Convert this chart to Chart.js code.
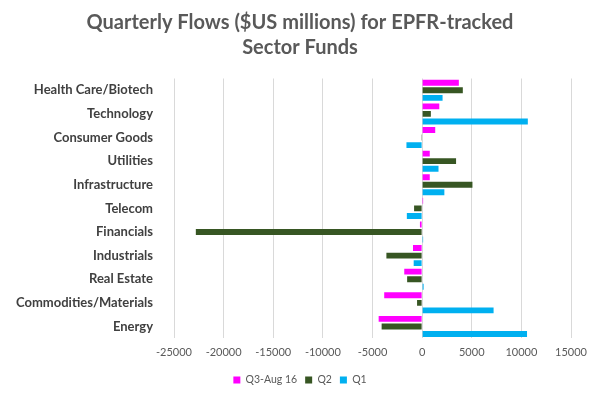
<!DOCTYPE html>
<html>
<head>
<meta charset="utf-8">
<script src="https://cdn.jsdelivr.net/npm/chart.js@4/dist/chart.umd.min.js"></script>
<style>
  html, body { margin: 0; padding: 0; background: #fff; }
  .wrap { width: 600px; height: 399px; position: relative; }
</style>
</head>
<body>
<div class="wrap"><canvas id="chart"></canvas></div>
<script>
// sectors, top to bottom
const categories = ['Health Care/Biotech', 'Technology', 'Consumer Goods', 'Utilities', 'Infrastructure', 'Telecom',
  'Financials', 'Industrials', 'Real Estate', 'Commodities/Materials', 'Energy']
const seriesNames = ['Q3-Aug 16', 'Q2', 'Q1']
const q3 = [3700, 1730, 1320, 770, 770, 100, -220, -920, -1800, -3820, -4380]
const q2 = [4100, 880, -80, 3420, 5070, -810, -22800, -3600, -1510, -510, -4080]
const q1 = [2060, 10650, -1580, 1650, 2240, -1540, 100, -850, 150, 7200, 10570]
const xTicks = [-25000, -20000, -15000, -10000, -5000, 0, 5000, 10000, 15000]
const colors = ['#ff00ff', '#375623', '#00b0f0']

const font = 'Lato, "Open Sans", sans-serif'

new Chart(document.getElementById('chart'), {
  type: 'bar',
  data: {
    labels: categories,
    datasets: [q3, q2, q1].map((data, i) => ({
      label: seriesNames[i],
      data,
      backgroundColor: colors[i],
      borderWidth: 0,
      barPercentage: 0.78,
      categoryPercentage: 0.96,
    }))
  },
  options: {
    indexAxis: 'y',
    responsive: true,
    maintainAspectRatio: false,
    animation: false,
    layout: { padding: { left: 0, right: 0, top: 0, bottom: 3.75 } },
    plugins: {
      title: {
        display: true,
        text: ['Quarterly Flows ($US millions) for EPFR-tracked', 'Sector Funds'],
        color: '#595959',
        font: { family: font, size: 20, weight: 'bold', lineHeight: 1.25 },
        padding: { top: 10.5, bottom: 18 }
      },
      legend: {
        position: 'bottom',
        labels: { color: '#595959', font: { family: font, size: 10.5 }, boxWidth: 7, boxHeight: 7, padding: 8 }
      },
      tooltip: { enabled: false }
    },
    scales: {
      x: {
        min: xTicks[0],
        max: xTicks[xTicks.length - 1],
        afterBuildTicks: s => { s.ticks = xTicks.map(v => ({ value: v })) },
        afterFit: s => { s.paddingRight = 29; s.height -= 0.7 },
        ticks: { color: '#595959', font: { family: font, size: 11 }, padding: 8, maxRotation: 0, callback: v => String(v) },
        grid: { color: '#d9d9d9', drawTicks: false },
        border: { display: false }
      },
      y: {
        afterFit: s => { s.width = 174 },
        ticks: { color: '#404040', font: { family: font, size: 13, weight: 'bold' }, padding: 13, autoSkip: false },
        grid: { display: false },
        border: { display: false }
      }
    }
  }
})
</script>
</body>
</html>
